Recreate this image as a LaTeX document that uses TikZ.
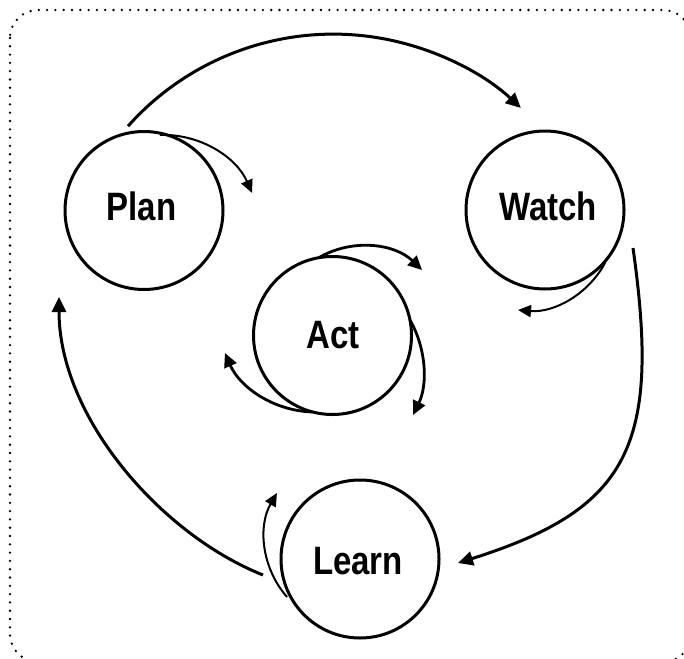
\documentclass[tikz,border=0pt]{standalone}
\usepackage{fontspec}
\setmainfont{Liberation Sans}
\usetikzlibrary{arrows.meta,calc}
\begin{document}
\begin{tikzpicture}[x=1pt,y=-1pt,
 ring/.style={circle,draw,line width=3pt,minimum size=158pt,inner sep=0pt},
 lbl/.style={inner sep=0pt,font=\fontsize{33}{40}\selectfont\bfseries},
 bigarrow/.style={line width=3pt,-{Triangle[length=15pt,width=14pt]}},
 thinarrow/.style={line width=2pt,-{Triangle[length=13pt,width=12pt]}},
 actarrow/.style={line width=2.8pt,-{Triangle[length=14pt,width=13pt]}},
 frame/.style={line width=2.6pt,dash pattern=on 0pt off 8.3pt,line cap=round,rounded corners=28pt}]
\useasboundingbox (0,0) rectangle (684,658);
\draw[frame] (10,10) rectangle (691,662);

% circles
\node[ring] (plan) at (144,210.5) {};
\node[ring] (watch) at (545,210) {};
\node[ring] (act) at (332.5,335.5) {};
\node[ring] (learn) at (360,559) {};

% labels
\node[lbl] (plantext) at (141.5,206) {\scalebox{1}[1.2]{Plan}};
\node[lbl] (watchtext) at (548,206) {\scalebox{1}[1.2]{Watch}};
\node[lbl] (acttext) at (333,335) {\scalebox{1}[1.2]{Act}};
\node[lbl] (learntext) at (358,561.5) {\scalebox{1}[1.2]{Learn}};

% big cycle
\coordinate (pw) at ($(333.3,309.1)+(-138.3:275)$);
\draw[bigarrow] (pw) arc[start angle=-138.3,end angle=-47,radius=275];
\coordinate (wl) at (633,248);
\coordinate (wlend) at (458,563);
\draw[bigarrow] (wl) .. controls (661,446) and (629,509) .. (wlend);
\coordinate (lp) at (263,575);
\coordinate (lpend) at (59,297);
\draw[bigarrow] (lp) .. controls (160.7,534.3) and (59,417) .. (lpend);

% small arrows
\coordinate (ps) at ($(163.2,231.9)+(-91.9:97)$);
\draw[thinarrow] (ps) arc[start angle=-91.9,end angle=-23.7,radius=97];
\coordinate (ws) at ($(525.7,220.1)+(28.4:90.2)$);
\draw[thinarrow] (ws) arc[start angle=28.4,end angle=94.9,radius=90.2];
\coordinate (ls) at ($(354.2,538)+(138.7:89.4)$);
\draw[thinarrow] (ls) arc[start angle=138.7,end angle=210.2,radius=89.4];

% act arrows
\coordinate (at) at ($(362.3,331.9)+(-119.5:86)$);
\draw[actarrow] (at) arc[start angle=-119.5,end angle=-46,radius=86];
\coordinate (ar) at ($(321.3,370.4)+(-29.6:102)$);
\draw[actarrow] (ar) arc[start angle=-29.6,end angle=25.9,radius=102];
\coordinate (al) at ($(315.1,313.6)+(91.8:98.4)$);
\draw[actarrow] (al) arc[start angle=91.8,end angle=156.4,radius=98.4];
\end{tikzpicture}
\end{document}
